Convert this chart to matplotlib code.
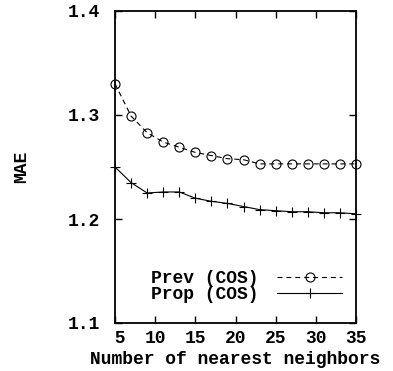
import matplotlib
matplotlib.use("Agg")
import matplotlib.pyplot as plt

# Data
neighbors = [5, 7, 9, 11, 13, 15, 17, 19, 21, 23, 25, 27, 29, 31, 33, 35]
prev_cos = [1.330, 1.299, 1.283, 1.274, 1.269, 1.264, 1.261, 1.258, 1.257, 1.253,
            1.253, 1.253, 1.253, 1.253, 1.253, 1.253]
prop_cos = [1.250, 1.235, 1.225, 1.226, 1.226, 1.220, 1.217, 1.215, 1.212, 1.209,
            1.208, 1.207, 1.207, 1.206, 1.206, 1.205]
xticks = [5, 10, 15, 20, 25, 30, 35]
xticklabels = [" 5", "10", "15", "20", "25", "30", "35"]
yticks = [1.1, 1.2, 1.3, 1.4]
yticklabels = ["1.1", "1.2", "1.3", "1.4"]
series_labels = ["Prev (COS)", "Prop (COS)"]

FONT = "Liberation Mono"
FS = 13

plt.rcParams['font.family'] = [FONT, 'DejaVu Sans Mono']
plt.rcParams['font.weight'] = 'bold'

fig = plt.figure(figsize=(3.93, 3.71), dpi=100)
ax = fig.add_axes([115/393, 48/371, 241/393, 312/371])

ax.plot(neighbors, prev_cos, color='black', lw=0.8, linestyle=(0, (4.5, 3.5)),
        marker='o', markersize=6.5, markerfacecolor='none', markeredgewidth=0.8,
        label=series_labels[0], clip_on=False)
ax.plot(neighbors, prop_cos, color='black', lw=0.8, linestyle='-',
        marker='+', markersize=7, markeredgewidth=0.8,
        label=series_labels[1], clip_on=False)

ax.set_xlim(5, 35)
ax.set_ylim(1.1, 1.4)
ax.set_xticks(xticks)
ax.set_xticklabels(xticklabels, fontsize=FS, fontweight='bold', family=FONT)
ax.set_yticks(yticks)
ax.set_yticklabels(yticklabels, fontsize=FS, fontweight='bold', family=FONT)
ax.tick_params(axis='both', direction='in', length=5, width=1.0,
               top=True, right=True)
ax.tick_params(axis='y', pad=11)
ax.tick_params(axis='x', pad=5)

for s in ax.spines.values():
    s.set_linewidth(1.3)

ax.set_xlabel("Number of nearest neighbors", fontsize=FS, fontweight='bold', family=FONT)
ax.xaxis.set_label_coords(0.498, -0.118)
ax.xaxis.label.set_va('center')
ax.set_ylabel("MAE", fontsize=FS, fontweight='bold', family=FONT)
ax.yaxis.set_label_coords(-0.387, 0.5)
ax.yaxis.label.set_va('center')

leg = ax.legend(loc='center right', bbox_to_anchor=(0.942, 0.117),
                frameon=False, markerfirst=False, numpoints=1,
                handlelength=3.6, handletextpad=1.0, borderpad=0,
                borderaxespad=0, labelspacing=-0.05,
                prop={'family': FONT, 'weight': 'bold', 'size': FS})

fig.savefig("out.png", dpi=100)
